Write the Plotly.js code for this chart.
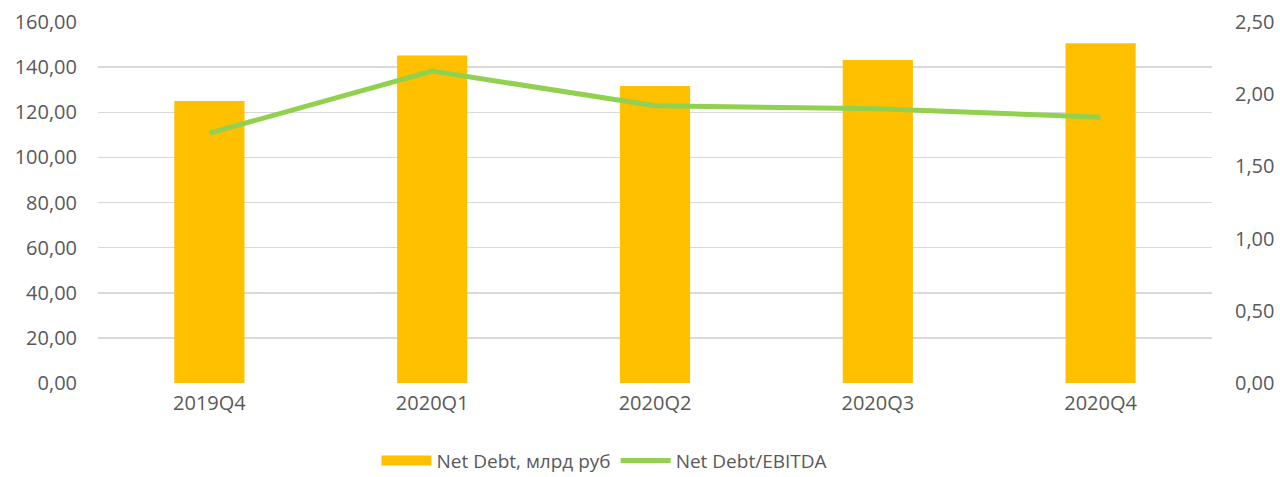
<!DOCTYPE html>
<html>
<head>
<meta charset="utf-8">
<script src="https://cdn.plot.ly/plotly-3.0.1.min.js"></script>
<style>html,body{margin:0;padding:0;background:#fff;}#chart{width:1280px;height:477px;}</style>
</head>
<body>
<div id="chart"></div>
<script>
const categories = ["2019Q4", "2020Q1", "2020Q2", "2020Q3", "2020Q4"];
const netDebt = [125.0, 145.1, 131.6, 143.2, 150.6];
const netDebtEbitda = [1.73, 2.16, 1.92, 1.90, 1.84];
const leftTicks = [0, 20, 40, 60, 80, 100, 120, 140, 160];
const rightTicks = [0, 0.5, 1, 1.5, 2, 2.5];
const fmt = v => v.toFixed(2).replace('.', ',');

const font = {family: "Open Sans, Liberation Sans, sans-serif", size: 20, color: "#595959"};
const legendFont = {family: "Open Sans, Liberation Sans, sans-serif", size: 19, color: "#595959"};

const traces = [
  {type: "bar", x: categories, y: netDebt, name: "Net Debt, млрд руб",
   marker: {color: "#FFC000"}, width: 0.315, yaxis: "y", showlegend: false},
  {type: "scatter", mode: "lines", x: categories, y: categories.map(() => null), name: "Net Debt, млрд руб",
   line: {color: "#FFC000", width: 15}, yaxis: "y", hoverinfo: "skip"},
  {type: "scatter", mode: "lines", x: categories, y: netDebtEbitda, name: "Net Debt/EBITDA",
   line: {color: "#92D050", width: 5}, yaxis: "y2"}
];

const layout = {
  width: 1280, height: 477,
  margin: {l: 98, r: 68, t: 22, b: 94, autoexpand: false},
  paper_bgcolor: "#fff", plot_bgcolor: "#fff",
  font: font,
  showlegend: true,
  legend: {orientation: "h", x: 0.25, xanchor: "left", y: -0.215, yanchor: "middle", font: legendFont, itemwidth: 50, tracegroupgap: 0},
  xaxis: {tickfont: font, showgrid: false, zeroline: false, showline: false, ticks: "", ticklabelstandoff: 6},
  yaxis: {range: [0, 160], tickvals: leftTicks, ticktext: leftTicks.map(fmt), tickfont: font,
          gridcolor: "#d9d9d9", gridwidth: 1.5, zeroline: false, ticks: "", ticklabelstandoff: 20},
  yaxis2: {range: [0, 2.5], tickvals: rightTicks, ticktext: rightTicks.map(fmt), tickfont: font,
           overlaying: "y", side: "right", showgrid: false, zeroline: false, ticks: "", ticklabelstandoff: 22}
};

Plotly.newPlot("chart", traces, layout, {displayModeBar: false, staticPlot: true});
</script>
</body>
</html>
